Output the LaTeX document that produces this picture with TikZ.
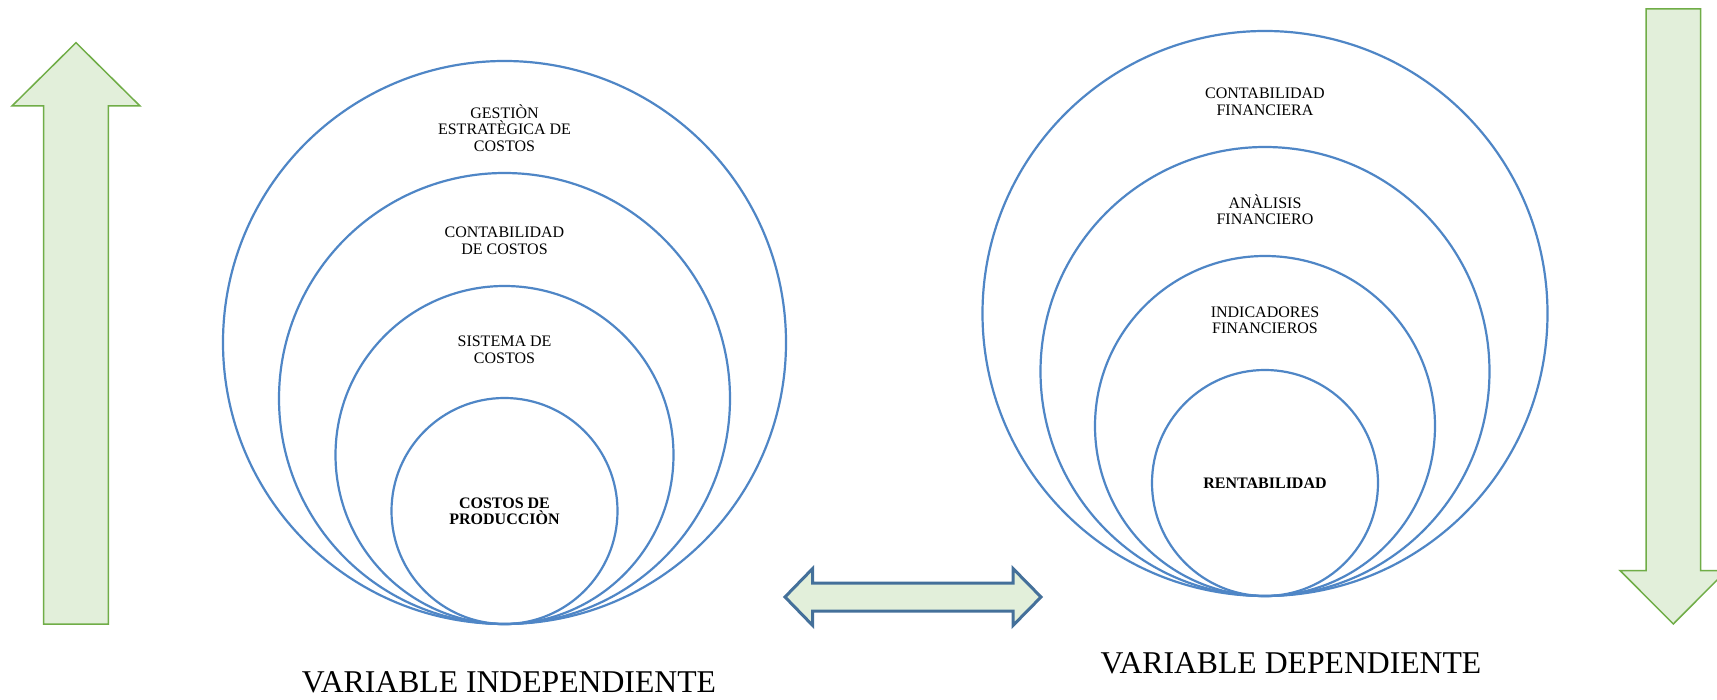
\documentclass[tikz,border=0pt]{standalone}
\usepackage{fontspec}
\setmainfont{Liberation Serif}
\definecolor{ringblue}{HTML}{4F86C6}
\definecolor{arrowfill}{HTML}{E2EFDA}
\definecolor{arrowgreen}{HTML}{70AD47}
\definecolor{arrowblue}{HTML}{44709A}
\begin{document}
\begin{tikzpicture}[x=1pt,y=-1pt,
  ring/.style={circle, draw=ringblue, line width=2.2pt, minimum size=#1, inner sep=0pt},
  lbl/.style={font=\fontsize{16}{16.3}\selectfont, align=center, inner sep=0pt},
  big/.style={font=\fontsize{31.7}{36}\selectfont, inner sep=0pt, anchor=base},
  greenarrow/.style={fill=arrowfill, draw=arrowgreen, line width=1.5pt, line join=miter},
  dblarrow/.style={fill=arrowfill, draw=arrowblue, line width=3pt, line join=miter}]
\clip (0,0) rectangle (1717,700);
\fill[white] (0,0) rectangle (1717,700);

% left arrow (up)
\draw[greenarrow] (43.7,624) -- (43.7,106) -- (12,106) -- (76,42.7) -- (140,106)
  -- (108.3,106) -- (108.3,624) -- cycle;
% right arrow (down)
\draw[greenarrow] (1646,9) -- (1700.6,9) -- (1700.6,570.5) -- (1726.5,570.5)
  -- (1673.3,624) -- (1620,570.5) -- (1646,570.5) -- cycle;
% double arrow
\draw[dblarrow] (785,597) -- (812.7,568.5) -- (812.7,583) -- (1013,583) -- (1013,568.5)
  -- (1041,597) -- (1013,625.5) -- (1013,611) -- (812.7,611) -- (812.7,625.5) -- cycle;

% left circles
\node[ring=563pt] (l1) at (504.5,342.5) {};
\node[ring=451pt] (l2) at (504.5,398.5) {};
\node[ring=338pt] (l3) at (504.5,455) {};
\node[ring=226pt] (l4) at (504.5,511) {};

% right circles
\node[ring=565pt] (r1) at (1265,313.5) {};
\node[ring=449pt] (r2) at (1265,371.5) {};
\node[ring=340pt] (r3) at (1265,426) {};
\node[ring=226pt] (r4) at (1265,483) {};

% left labels
\node[lbl] (t1) at (504.5,128) {GESTIÒN\\ESTRATÈGICA DE\\COSTOS};
\node[lbl] (t2) at (504.5,240.8) {CONTABILIDAD\\DE COSTOS};
\node[lbl] (t3) at (504.5,349.8) {SISTEMA DE\\COSTOS};
\node[lbl] (t4) at (504.5,511.4) {\bfseries COSTOS DE\\\bfseries PRODUCCIÒN};

% right labels
\node[lbl] (s1) at (1265,101.7) {CONTABILIDAD\\FINANCIERA};
\node[lbl] (s2) at (1265,210) {ANÀLISIS\\FINANCIERO};
\node[lbl] (s3) at (1265,320) {INDICADORES\\FINANCIEROS};
\node[lbl] (s4) at (1265,483) {\bfseries RENTABILIDAD};

% bottom labels
\node[big] (vi) at (509,692.5) {VARIABLE INDEPENDIENTE};
\node[big] (vd) at (1291,673.5) {VARIABLE DEPENDIENTE};
\end{tikzpicture}
\end{document}
